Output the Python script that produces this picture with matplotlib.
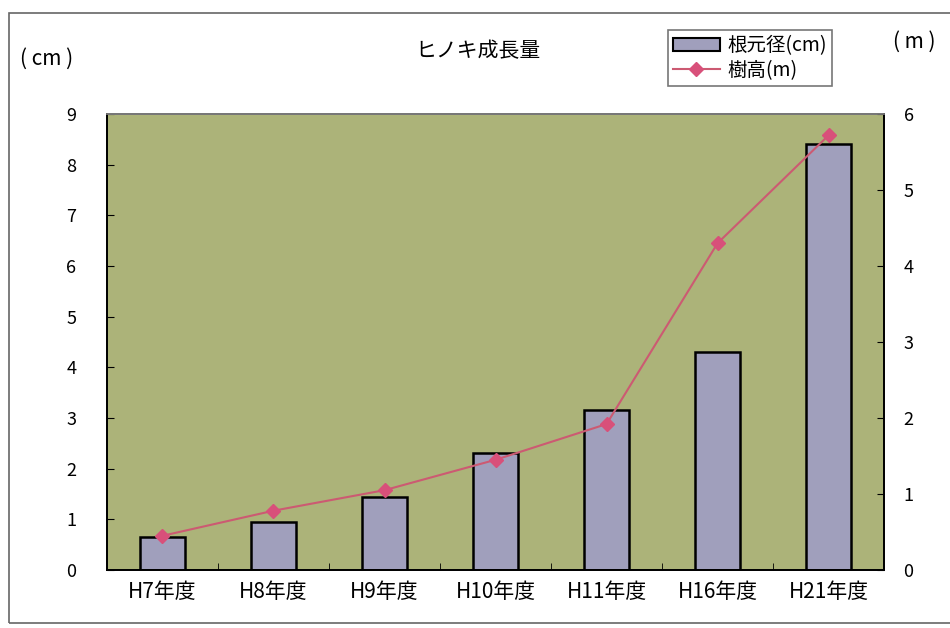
import matplotlib
matplotlib.use("Agg")
import matplotlib.pyplot as plt
from matplotlib.patches import Rectangle, Patch
from matplotlib.lines import Line2D
import numpy as np

plt.rcParams['font.family'] = ['Noto Sans CJK JP', 'DejaVu Sans']

categories = ["H7年度", "H8年度", "H9年度", "H10年度", "H11年度", "H16年度", "H21年度"]
root_diameter_cm = [0.65, 0.95, 1.45, 2.3, 3.15, 4.3, 8.4]
tree_height_m = [0.45, 0.78, 1.05, 1.45, 1.92, 4.3, 5.72]
left_ticks = list(range(0, 10))
right_ticks = list(range(0, 7))

fig = plt.figure(figsize=(9.5, 6.28), dpi=100)
fig.patch.set_facecolor("white")
ax = fig.add_axes([0.1126, 0.0924, 0.818, 0.726])
ax.set_facecolor("#acb379")

x = np.arange(len(categories))
ax.bar(x, root_diameter_cm, width=0.4, color="#a09fbc", edgecolor="black", linewidth=1.8, zorder=2)
ax.set_xlim(-0.5, len(categories) - 0.5)
ax.set_ylim(0, 9)
ax.set_yticks(left_ticks)
ax.set_yticklabels([str(t) for t in left_ticks], fontsize=13)
ax.set_xticks(x)
ax.set_xticklabels(categories, fontsize=15)
ax.set_xticks(np.arange(len(categories) - 1) + 0.5, minor=True)
ax.tick_params(axis='x', which='major', length=0, pad=8)
ax.tick_params(axis='x', which='minor', direction='in', length=5)
ax.tick_params(axis='y', direction='in', length=5, pad=22)
for s in ax.spines.values():
    s.set_linewidth(1.3)
ax.spines['top'].set_color("#777777")

ax2 = ax.twinx()
ax2.plot(x, tree_height_m, color="#cc5a72", linewidth=1.5, marker="D", markersize=7,
         markerfacecolor="#d8507a", markeredgecolor="#d8507a", zorder=3)
ax2.set_ylim(0, 6)
ax2.set_yticks(right_ticks)
ax2.set_yticklabels([str(t) for t in right_ticks], fontsize=13)
ax2.tick_params(axis='y', direction='in', length=5, pad=14)
for s in ax2.spines.values():
    s.set_linewidth(1.3)
ax2.spines['top'].set_color("#777777")

fig.text(0.503, 0.918, "ヒノキ成長量", ha="center", va="center", fontsize=15)
fig.text(0.049, 0.907, "( cm )", ha="center", va="center", fontsize=15)
fig.text(0.962, 0.933, "( m )", ha="center", va="center", fontsize=15)

handles = [Patch(facecolor="#a09fbc", edgecolor="black", linewidth=1.5),
           Line2D([0], [0], color="#cc5a72", linewidth=1.5, marker="D", markersize=7,
                  markerfacecolor="#d8507a", markeredgecolor="#d8507a")]
leg = fig.legend(handles, ["根元径(cm)", "樹高(m)"], loc="upper left",
                 bbox_to_anchor=(0.693, 0.967), fontsize=14, frameon=True,
                 fancybox=False, edgecolor="#555555", handlelength=2.4,
                 handletextpad=0.4, borderpad=0.25, labelspacing=0.2)
leg.get_frame().set_linewidth(1.2)

fig.add_artist(Rectangle((0.009, 0.008), 1.2, 0.972, transform=fig.transFigure,
                         fill=False, edgecolor="#666666", linewidth=1.2))

fig.savefig("out.png", dpi=100)
